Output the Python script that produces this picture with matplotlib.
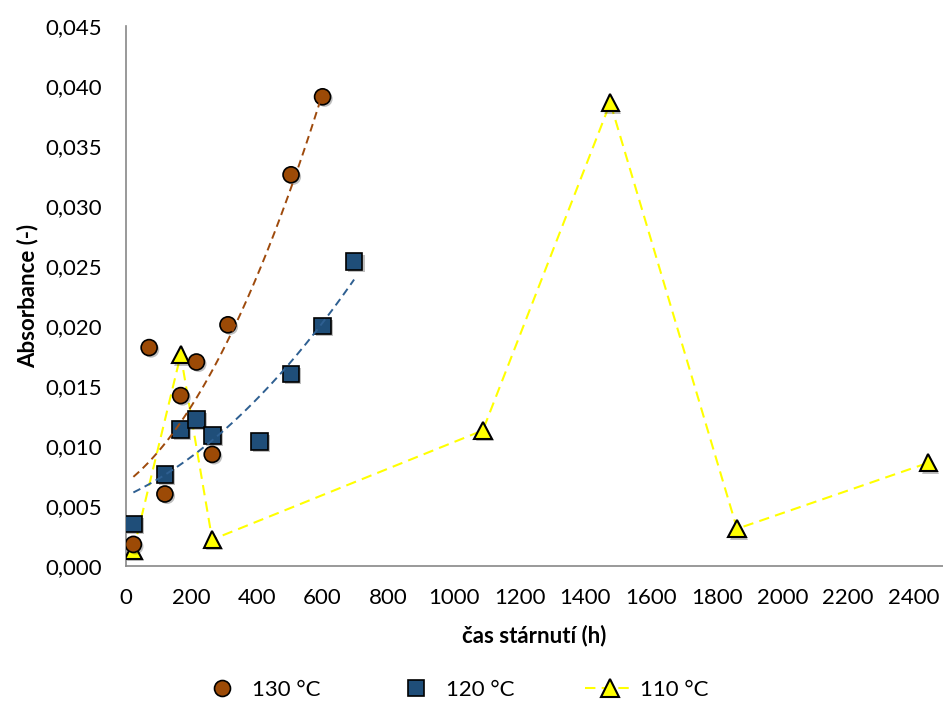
import numpy as np
import matplotlib.pyplot as plt
from matplotlib.lines import Line2D
from matplotlib.ticker import FuncFormatter, MultipleLocator
import matplotlib.patheffects as pe

plt.rcParams['font.family'] = ['Lato', 'DejaVu Sans']

# data
t130 = [24, 72, 120, 168, 216, 264, 312, 504, 600]
a130 = [0.0018, 0.0182, 0.0060, 0.0142, 0.0170, 0.0093, 0.0201, 0.0326, 0.0391]
t120 = [24, 120, 168, 216, 264, 408, 504, 600, 696]
a120 = [0.0035, 0.0076, 0.0114, 0.0122, 0.0109, 0.0104, 0.0160, 0.0200, 0.0254]
t110 = [24, 168, 264, 1088, 1476, 1862, 2444]
a110 = [0.0013, 0.0176, 0.0022, 0.0113, 0.0386, 0.0031, 0.0086]
labels = ['130 °C', '120 °C', '110 °C']

c130 = '#9C4A06'
c120 = '#1F4E79'
c110 = '#FFFF00'

fig = plt.figure(figsize=(9.43, 7.06), dpi=100)
ax = fig.add_axes([125.5 / 943, 140 / 706, 817.5 / 943, 540 / 706])

shadow = [pe.SimplePatchShadow(offset=(1.5, -1.5), shadow_rgbFace='k', alpha=0.25), pe.Normal()]

ax.plot(t110, a110, color=c110, lw=1.5, dashes=(5, 3), zorder=2)
ax.plot(t110, a110, ls='none', marker='^', ms=12.5, mfc=c110, mec='k', mew=1.5,
        path_effects=shadow, zorder=3)
ax.plot(t120, a120, ls='none', marker='s', ms=12, mfc=c120, mec='k', mew=1.2,
        path_effects=shadow, zorder=4)
ax.plot(t130, a130, ls='none', marker='o', ms=11.5, mfc=c130, mec='k', mew=1.2,
        path_effects=shadow, zorder=5)

# polynomial (2nd order) trend lines like in Excel
for t, a, c in [(t130, a130, '#9E4A0C'), (t120, a120, '#2E5F91')]:
    t = np.array(t, float)
    xx = np.linspace(t.min(), t.max(), 200)
    p = np.polyfit(t, a, 2)
    ax.plot(xx, np.polyval(p, xx), color=c, lw=1.4, dashes=(4, 2.5), zorder=6)

ax.set_xlim(0, 2489)
ax.set_ylim(0, 0.045)
ax.xaxis.set_major_locator(MultipleLocator(200))
ax.yaxis.set_major_locator(MultipleLocator(0.005))
ax.yaxis.set_major_formatter(FuncFormatter(lambda v, p: f'{v:.3f}'.replace('.', ',')))
ax.tick_params(length=0, labelsize=16)
ax.tick_params(axis='y', pad=17)
ax.tick_params(axis='x', pad=16)
for s in ['top', 'right']:
    ax.spines[s].set_visible(False)
for s in ['left', 'bottom']:
    ax.spines[s].set_color('#878787')
    ax.spines[s].set_linewidth(1.2)

ax.set_xlabel('čas stárnutí (h)', fontsize=16, fontweight='bold', labelpad=12)
ax.set_ylabel('Absorbance (-)', fontsize=16, fontweight='bold', labelpad=5)

handles = [
    Line2D([], [], ls='none', marker='o', ms=11.5, mfc=c130, mec='k', mew=1.2),
    Line2D([], [], ls='none', marker='s', ms=12, mfc=c120, mec='k', mew=1.2),
    Line2D([], [], color=c110, lw=1.5, dashes=(5, 3), marker='^', ms=12.5, mfc=c110, mec='k', mew=1.5),
]
fig.legend(handles, labels, loc='center', bbox_to_anchor=(0.48, 0.023),
           ncol=3, frameon=False, fontsize=16, handlelength=2.2, columnspacing=3.2,
           handletextpad=0.25)

fig.savefig('out.png', dpi=100)
